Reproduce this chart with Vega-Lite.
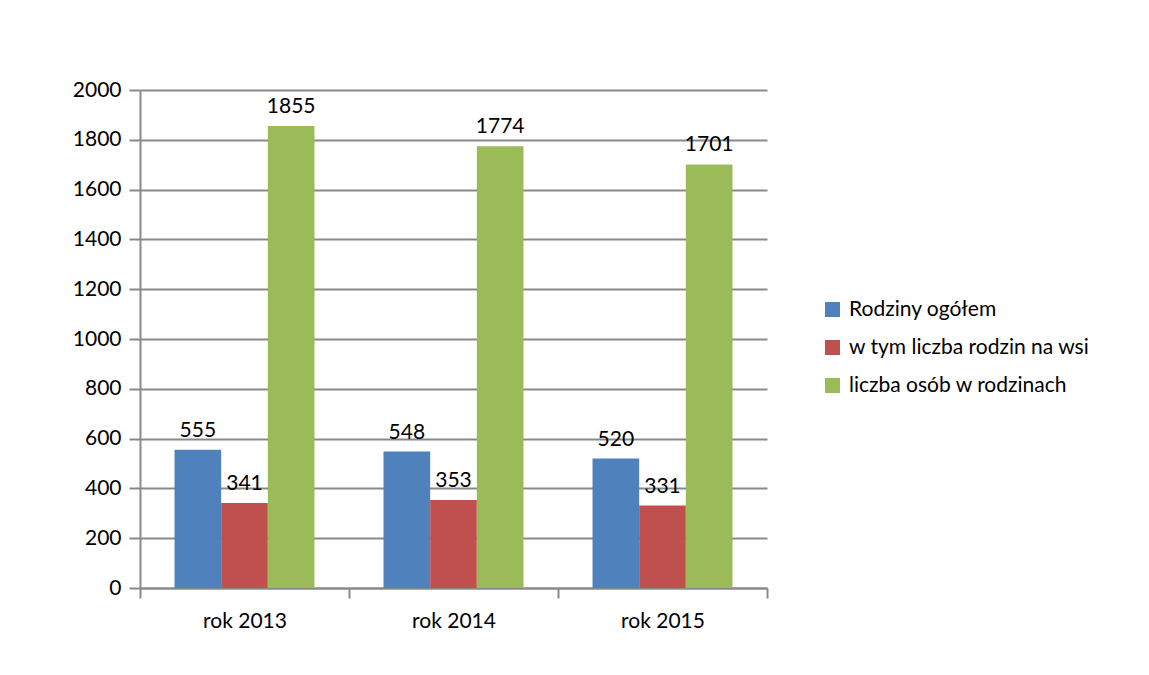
{
  "$schema": "https://vega.github.io/schema/vega-lite/v6.json",
  "autosize": {"type": "none"},
  "width": 627,
  "height": 498,
  "padding": {"left": 140, "top": 90, "right": 382, "bottom": 87},
  "background": "white",
  "config": {
    "font": "Lato",
    "view": {"stroke": null},
    "axis": {"labelFont": "Lato", "labelFontSize": 21, "labelColor": "black", "domainColor": "#898989", "tickColor": "#898989", "gridColor": "#898989", "domainWidth": 2, "tickWidth": 2, "gridWidth": 2, "title": null}
  },
  "data": {
    "values": [
      {"rok": "rok 2013", "seria": "Rodziny ogółem", "wartosc": 555},
      {"rok": "rok 2013", "seria": "w tym liczba rodzin na wsi", "wartosc": 341},
      {"rok": "rok 2013", "seria": "liczba osób w rodzinach", "wartosc": 1855},
      {"rok": "rok 2014", "seria": "Rodziny ogółem", "wartosc": 548},
      {"rok": "rok 2014", "seria": "w tym liczba rodzin na wsi", "wartosc": 353},
      {"rok": "rok 2014", "seria": "liczba osób w rodzinach", "wartosc": 1774},
      {"rok": "rok 2015", "seria": "Rodziny ogółem", "wartosc": 520},
      {"rok": "rok 2015", "seria": "w tym liczba rodzin na wsi", "wartosc": 331},
      {"rok": "rok 2015", "seria": "liczba osób w rodzinach", "wartosc": 1701}
    ]
  },
  "encoding": {
    "x": {"field": "rok", "type": "nominal", "sort": null,
      "scale": {"paddingInner": 0, "paddingOuter": 0},
      "axis": {"labelAngle": 0, "tickBand": "extent", "tickSize": 10, "labelPadding": 12, "grid": false}},
    "xOffset": {"field": "seria", "type": "nominal",
      "sort": ["Rodziny ogółem", "w tym liczba rodzin na wsi", "liczba osób w rodzinach"],
      "scale": {"paddingInner": 0, "paddingOuter": 0.74}},
    "y": {"field": "wartosc", "type": "quantitative",
      "scale": {"domain": [0, 2000], "nice": false},
      "axis": {"values": [0, 200, 400, 600, 800, 1000, 1200, 1400, 1600, 1800, 2000], "format": "d", "tickSize": 11, "labelPadding": 8, "grid": true}}
  },
  "layer": [
    {
      "mark": {"type": "bar"},
      "encoding": {
        "color": {"field": "seria", "type": "nominal",
          "sort": ["Rodziny ogółem", "w tym liczba rodzin na wsi", "liczba osób w rodzinach"],
          "scale": {"domain": ["Rodziny ogółem", "w tym liczba rodzin na wsi", "liczba osób w rodzinach"], "range": ["#4F81BD", "#C0504D", "#9BBB59"]},
          "legend": {"title": null, "orient": "none", "legendX": 682, "legendY": 209, "symbolType": "square", "symbolSize": 225, "symbolStrokeWidth": 0, "labelFontSize": 21, "labelFont": "Lato", "labelColor": "black", "rowPadding": 16, "labelOffset": 6, "labelLimit": 400}}
      }
    },
    {
      "mark": {"type": "text", "baseline": "alphabetic", "dy": -13, "fontSize": 21, "font": "Lato", "color": "black"},
      "encoding": {"text": {"field": "wartosc", "type": "quantitative"}}
    }
  ]
}
